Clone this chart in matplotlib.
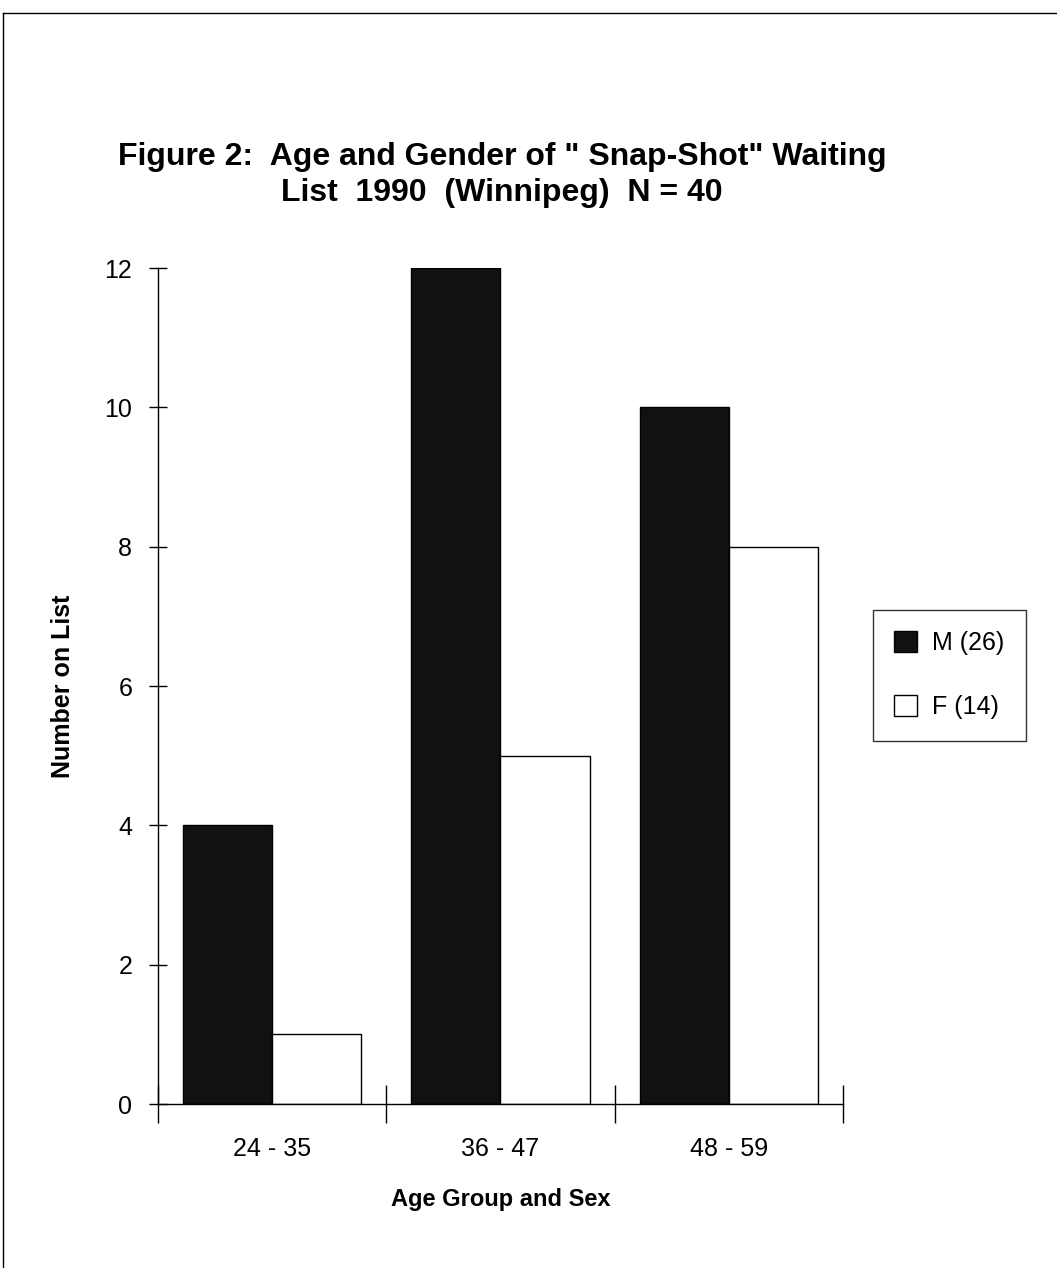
import numpy as np
import matplotlib.pyplot as plt
from matplotlib.lines import Line2D

# data
age_groups = ['24 - 35', '36 - 47', '48 - 59']
male = [4, 12, 10]
female = [1, 5, 8]
legend_labels = ['M (26)', 'F (14)']
y_ticks = [0, 2, 4, 6, 8, 10, 12]

narrow = ['Liberation Sans Narrow', 'Liberation Sans', 'DejaVu Sans']
plain = ['Liberation Sans', 'DejaVu Sans']

fig = plt.figure(figsize=(10.57, 12.68), dpi=100)
ax = fig.add_axes([0.1495, 0.1293, 0.648, 0.6593])

x = np.arange(len(age_groups))
w = 0.39
ax.bar(x - w / 2, male, width=w, color='#111111', edgecolor='black', linewidth=1.0)
ax.bar(x + w / 2, female, width=w, color='white', edgecolor='black', linewidth=1.0)

ax.set_xlim(-0.5, len(age_groups) - 0.5)
ax.set_ylim(0, 12)
for s in ['top', 'right']:
    ax.spines[s].set_visible(False)
ax.spines['left'].set_linewidth(1.0)
ax.spines['bottom'].set_linewidth(1.0)

ax.set_yticks(y_ticks)
ax.set_yticklabels([str(v) for v in y_ticks], family=plain, fontsize=18)
ax.tick_params(axis='y', direction='inout', length=13, width=1.0, pad=12)

# category labels in the middle, tick marks on the group boundaries
ax.set_xticks(x)
ax.set_xticklabels(age_groups, family=narrow, fontsize=18)
ax.tick_params(axis='x', which='major', length=0, pad=24)
ax.set_xticks(np.arange(len(age_groups) + 1) - 0.5, minor=True)
ax.tick_params(axis='x', which='minor', direction='inout', length=28, width=1.0)

ax.set_ylabel('Number on List', family=plain, fontsize=18, fontweight='bold', labelpad=21)
ax.set_xlabel('Age Group and Sex', family=narrow, fontsize=17, fontweight='bold', labelpad=19)

fig.text(0.475, 0.862, 'Figure 2:  Age and Gender of " Snap-Shot" Waiting\nList  1990  (Winnipeg)  N = 40',
         ha='center', va='center', family=narrow, fontsize=23, fontweight='bold',
         linespacing=1.25, multialignment='center')

handles = [plt.Rectangle((0, 0), 1, 1, facecolor='#111111', edgecolor='black'),
           plt.Rectangle((0, 0), 1, 1, facecolor='white', edgecolor='black')]
leg = fig.legend(handles, legend_labels, loc='upper left', bbox_to_anchor=(0.814, 0.529),
                 prop={'family': plain, 'size': 18}, frameon=True, fancybox=False,
                 edgecolor='black', handlelength=0.92, handleheight=0.92,
                 labelspacing=1.6, borderpad=0.85, handletextpad=0.6)
leg.get_frame().set_linewidth(1.0)

# page frame from the scan
fig.add_artist(Line2D([0.003, 0.003], [0.0, 0.99], color='black', lw=1.0))
fig.add_artist(Line2D([0.003, 1.0], [0.99, 0.99], color='black', lw=1.0))

fig.savefig('out.png', dpi=100)
